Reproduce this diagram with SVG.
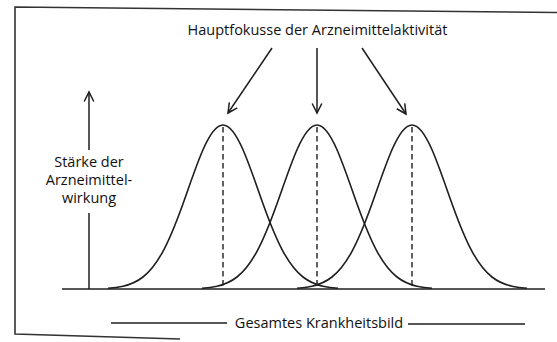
<svg xmlns="http://www.w3.org/2000/svg" width="557" height="342" viewBox="0 0 557 342">
<style>
  .ln{stroke:#1e1e1e;stroke-width:1.5;fill:none}
  .frame{stroke:#333;stroke-width:1.6;fill:none}
  .curve{stroke:#1e1e1e;stroke-width:1.6;fill:none}
  .dash{stroke:#1e1e1e;stroke-width:1.4;stroke-dasharray:5.5 3.5;fill:none}
  .t{font-family:"Open Sans","Noto Sans","Liberation Sans",sans-serif;font-size:14.5px;font-weight:500;fill:#111;text-anchor:middle}
</style>
<defs>
  <marker id="ah" markerUnits="userSpaceOnUse" markerWidth="14" markerHeight="14" refX="0" refY="0" viewBox="-11 -7 13 14" orient="auto" overflow="visible">
    <path d="M-9.5,-4.8 L0,0 L-9.5,4.8" fill="none" stroke="#1e1e1e" stroke-width="1.5"/>
  </marker>
  <path id="bell" d="M-115,288.26 C-110,287.91 -105,287.33 -100,286.2 C-93.333,284.69 -86.667,282.24 -80,277 C-73.333,271.76 -66.667,263.62 -60,251.3 C-53.333,238.98 -46.667,222.28 -40,203.7 C-33.333,185.12 -26.667,164.86 -20,149.7 C-13.333,134.54 -6.667,125 0,125 C6.667,125 13.333,134.54 20,149.7 C26.667,164.86 33.333,185.12 40,203.7 C46.667,222.28 53.333,238.98 60,251.3 C66.667,263.62 73.333,271.76 80,277 C86.667,282.24 93.333,284.69 100,286.2 C105,287.33 110,287.91 115,288.26"/>
</defs>
<rect width="557" height="342" fill="#fff"/>
<g id="frame">
  <path class="frame" d="M557,12.5 L15,7 L15,334 L180,339"/>
</g>
<g id="title">
  <text class="t" x="317.5" y="35">Hauptfokusse der Arzneimittelaktivität</text>
</g>
<g id="y-axis">
  <line class="ln" x1="89" y1="150" x2="89" y2="92" marker-end="url(#ah)"/>
  <line class="ln" x1="89" y1="213" x2="89" y2="289"/>
  <text class="t" x="89" y="167">Stärke der</text>
  <text class="t" x="89" y="185">Arzneimittel-</text>
  <text class="t" x="89" y="203">wirkung</text>
</g>
<g id="baseline">
  <line class="ln" x1="62" y1="289" x2="545" y2="289"/>
</g>
<g id="curve1">
  <use href="#bell" class="curve" transform="translate(223,0)"/>
  <line class="dash" x1="223" y1="127" x2="223" y2="289"/>
</g>
<g id="curve2">
  <use href="#bell" class="curve" transform="translate(317,0)"/>
  <line class="dash" x1="317" y1="127" x2="317" y2="289"/>
</g>
<g id="curve3">
  <use href="#bell" class="curve" transform="translate(412,0)"/>
  <line class="dash" x1="412" y1="127" x2="412" y2="289"/>
</g>
<g id="connectors">
  <line class="ln" x1="272" y1="48" x2="228" y2="113" marker-end="url(#ah)"/>
  <line class="ln" x1="317" y1="48" x2="317" y2="113" marker-end="url(#ah)"/>
  <line class="ln" x1="362" y1="48" x2="406" y2="114" marker-end="url(#ah)"/>
</g>
<g id="x-label">
  <line class="ln" x1="111" y1="323" x2="227" y2="323"/>
  <text class="t" x="319" y="328">Gesamtes Krankheitsbild</text>
  <line class="ln" x1="408" y1="324" x2="525" y2="324"/>
</g>
</svg>
